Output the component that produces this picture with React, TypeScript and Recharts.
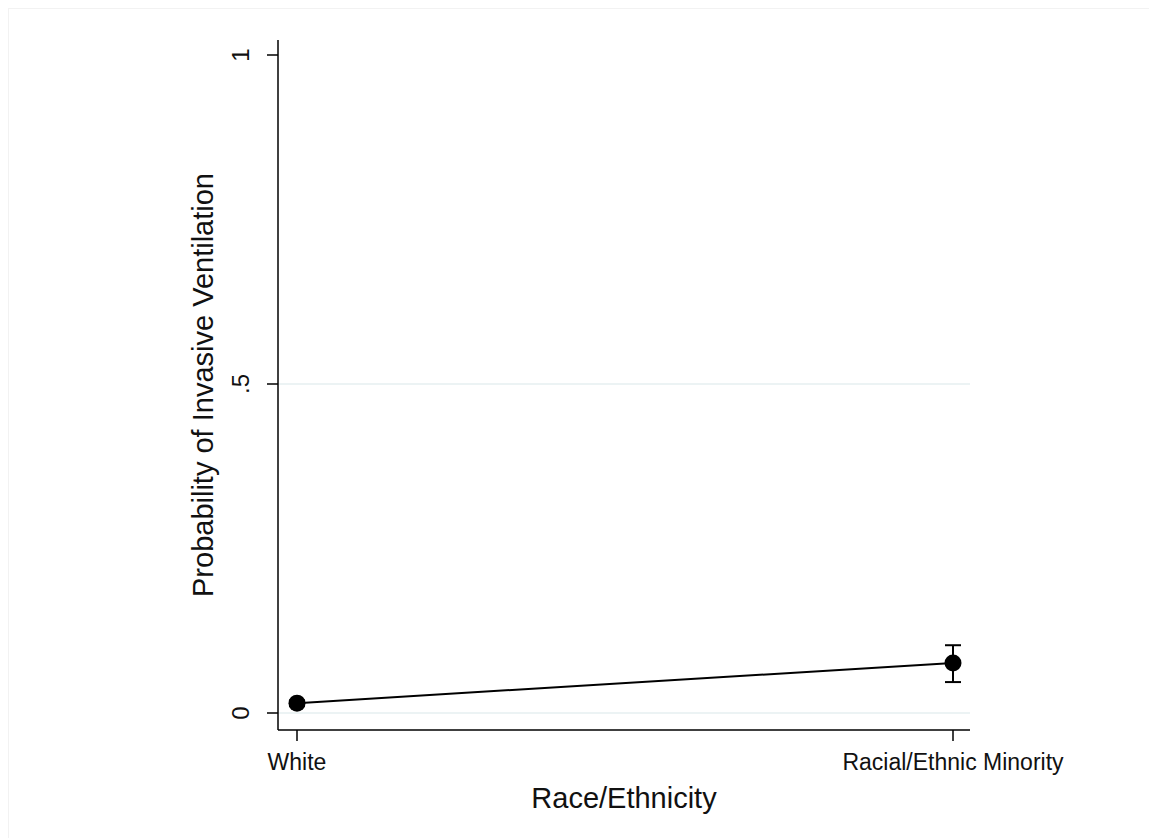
import { ComposedChart, Line, XAxis, YAxis, ErrorBar, ReferenceLine } from 'recharts';

// predicted probability with 95% CI by group
const groups = ['White', 'Racial/Ethnic Minority'];
const probability = [0.015, 0.076];
const ciLow = [0.011, 0.047];
const ciHigh = [0.019, 0.103];
const yTicks = [0, 0.5, 1];
const yTickLabels = ['0', '.5', '1'];

const data = groups.map((g, i) => ({
  x: i,
  name: g,
  y: probability[i],
  err: [probability[i] - ciLow[i], ciHigh[i] - probability[i]],
}));

const FONT = '"Liberation Sans", Arial, sans-serif';

const YTick = (props: any) => {
  const { x, y, payload } = props;
  const idx = yTicks.indexOf(payload.value);
  return (
    <text
      x={x - 16}
      y={y}
      transform={`rotate(-90, ${x - 16}, ${y})`}
      textAnchor="middle"
      fontSize={24}
      fontFamily={FONT}
      fill="#111"
    >
      {yTickLabels[idx]}
    </text>
  );
};

const XTick = (props: any) => {
  const { x, y, payload } = props;
  return (
    <text x={x} y={y + 27} textAnchor="middle" fontSize={23} fontFamily={FONT} fill="#111">
      {groups[payload.value]}
    </text>
  );
};

const App = () => {
  return (
    <div style={{ position: 'absolute', left: 0, top: 0, width: 1149, height: 838, background: '#fff' }}>
      {/* faint outer frame */}
      <div style={{ position: 'absolute', left: 8, top: 8, right: 0, bottom: 0, borderTop: '1px solid #f2f2f2', borderLeft: '1px solid #f2f2f2' }} />
      <ComposedChart
        width={1149}
        height={838}
        data={data}
        margin={{ top: 40, right: 179, bottom: 78, left: 218 }}
        style={{ position: 'absolute', left: 0, top: 0 }}
      >
        <XAxis
          dataKey="x"
          type="number"
          domain={[-19 / 656, 1 + 17 / 656]}
          ticks={[0, 1]}
          tick={<XTick />}
          tickSize={11}
          height={30}
          stroke="#000"
          strokeWidth={1.5}
          tickLine={{ stroke: '#000', strokeWidth: 1.5 }}
          label={{ value: 'Race/Ethnicity', position: 'insideBottom', offset: -48, fontSize: 29, fontFamily: FONT, fill: '#111' }}
        />
        <YAxis
          type="number"
          domain={[-17 / 658, 1 + 15 / 658]}
          ticks={yTicks}
          tick={<YTick />}
          tickSize={11}
          width={60}
          stroke="#000"
          strokeWidth={1.5}
          tickLine={{ stroke: '#000', strokeWidth: 1.5 }}
          label={{
            value: 'Probability of Invasive Ventilation',
            angle: -90,
            position: 'insideLeft',
            offset: -15,
            fontSize: 29,
            fontFamily: FONT,
            fill: '#111',
            style: { textAnchor: 'middle' },
          }}
        />
        <ReferenceLine y={0} stroke="#e6eff0" strokeWidth={1.5} />
        <ReferenceLine y={0.5} stroke="#e6eff0" strokeWidth={1.5} />
        <Line
          dataKey="y"
          stroke="#000"
          strokeWidth={2}
          dot={{ r: 8.5, fill: '#000', stroke: '#000', strokeWidth: 0 }}
          isAnimationActive={false}
        >
          <ErrorBar dataKey="err" width={8} stroke="#000" strokeWidth={2} direction="y" />
        </Line>
      </ComposedChart>
    </div>
  );
};

export default App;
